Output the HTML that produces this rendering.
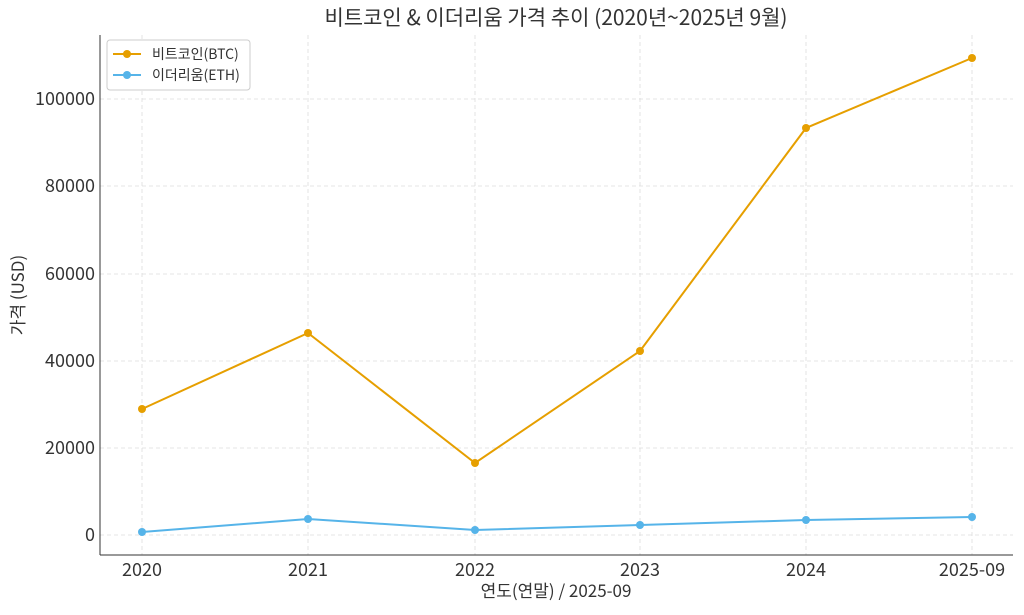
<!DOCTYPE html>
<html><head><meta charset="utf-8"><style>
body{margin:0;background:#fff;}
svg text{font-family:"Noto Sans CJK KR","Liberation Sans",sans-serif;fill:#333;}
</style></head><body>
<svg width="1024" height="610" xmlns="http://www.w3.org/2000/svg">
<rect width="1024" height="610" fill="#fff"/>
<g stroke="#ddd" stroke-width="0.8" stroke-dasharray="4,3">
<line x1="142" y1="35" x2="142" y2="555"/><line x1="308" y1="35" x2="308" y2="555"/><line x1="475" y1="35" x2="475" y2="555"/><line x1="640" y1="35" x2="640" y2="555"/><line x1="806" y1="35" x2="806" y2="555"/><line x1="972" y1="35" x2="972" y2="555"/>
<line x1="100" y1="535" x2="1013" y2="535"/><line x1="100" y1="448" x2="1013" y2="448"/><line x1="100" y1="361" x2="1013" y2="361"/><line x1="100" y1="274" x2="1013" y2="274"/><line x1="100" y1="186" x2="1013" y2="186"/><line x1="100" y1="99" x2="1013" y2="99"/>
</g>
<line x1="100" y1="35" x2="100" y2="555" stroke="#333" stroke-width="1"/>
<line x1="100" y1="555" x2="1013" y2="555" stroke="#333" stroke-width="1"/>
<g font-size="18" text-anchor="end">
<text x="95" y="541">0</text><text x="95" y="454">20000</text><text x="95" y="367">40000</text><text x="95" y="280">60000</text><text x="95" y="192">80000</text><text x="95" y="105">100000</text>
</g>
<g font-size="18" text-anchor="middle">
<text x="142" y="576">2020</text><text x="308" y="576">2021</text><text x="475" y="576">2022</text><text x="640" y="576">2023</text><text x="806" y="576">2024</text><text x="972" y="576">2025-09</text>
</g>
<text x="556" y="597" font-size="17" text-anchor="middle">연도(연말) / 2025-09</text>
<text x="0" y="0" font-size="17" text-anchor="middle" transform="translate(24,295) rotate(-90)">가격 (USD)</text>
<text x="556" y="25" font-size="21" text-anchor="middle">비트코인 &amp; 이더리움 가격 추이 (2020년~2025년 9월)</text>
<polyline fill="none" stroke="#E69F00" stroke-width="2" points="142,409 308,333 475,463 640,351 806,128 972,58"/>
<g fill="#E69F00"><circle cx="142" cy="409" r="4"/><circle cx="308" cy="333" r="4"/><circle cx="475" cy="463" r="4"/><circle cx="640" cy="351" r="4"/><circle cx="806" cy="128" r="4"/><circle cx="972" cy="58" r="4"/></g>
<polyline fill="none" stroke="#56B4E9" stroke-width="2" points="142,532 308,519 475,530 640,525 806,520 972,517"/>
<g fill="#56B4E9"><circle cx="142" cy="532" r="4"/><circle cx="308" cy="519" r="4"/><circle cx="475" cy="530" r="4"/><circle cx="640" cy="525" r="4"/><circle cx="806" cy="520" r="4"/><circle cx="972" cy="517" r="4"/></g>
<rect x="107" y="40" width="143" height="50" rx="3" fill="#fff" stroke="#ccc" stroke-width="1"/>
<line x1="113" y1="54" x2="141" y2="54" stroke="#E69F00" stroke-width="2"/><circle cx="127" cy="54" r="4" fill="#E69F00"/>
<text x="152" y="59" font-size="14">비트코인(BTC)</text>
<line x1="113" y1="75" x2="141" y2="75" stroke="#56B4E9" stroke-width="2"/><circle cx="127" cy="75" r="4" fill="#56B4E9"/>
<text x="152" y="80" font-size="14">이더리움(ETH)</text>
</svg>
</body></html>
